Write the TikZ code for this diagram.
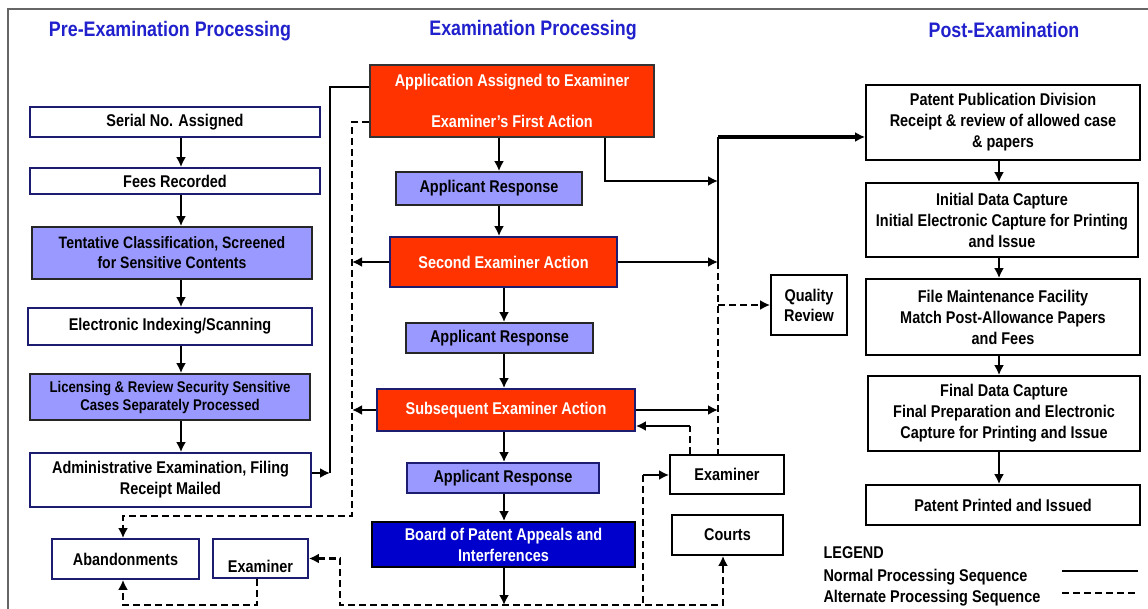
\documentclass[tikz,border=0pt]{standalone}
\usepackage{fontspec}
\setmainfont{Liberation Sans}[FakeStretch=0.85]
\usetikzlibrary{arrows.meta}
\definecolor{examred}{RGB}{255,51,0}
\definecolor{respblue}{RGB}{153,153,255}
\definecolor{boardblue}{RGB}{0,0,204}
\definecolor{titleblue}{RGB}{32,32,204}
\definecolor{navyline}{RGB}{28,28,112}

\begin{document}
\begin{tikzpicture}[x=1pt,y=-1pt,
  >={Latex[length=10pt,width=10pt]},
  box/.style={draw=black, line width=1.8pt, inner sep=0pt, align=center,
    font=\fontsize{17}{21}\selectfont\bfseries},
  plain/.style={box, draw=navyline, fill=white},
  resp/.style={box, draw=black!85, fill=respblue},
  action/.style={box, draw=navyline, fill=examred, text=white},
  head/.style={font=\fontsize{21}{24}\selectfont\bfseries, text=titleblue},
  flow/.style={line width=2.3pt},
  alt/.style={line width=2.3pt, dash pattern=on 7pt off 4pt}]
				\useasboundingbox (0,0) rectangle (1148,609);
				\draw[black!60, line width=1.2pt] (8,609) -- (8,9) -- (1148,9);

				% headings
				\node[head] (prehead) at (170,31) {Pre-Examination Processing};
				\node[head] (exhead) at (533,30) {Examination Processing};
				\node[head] (posthead) at (1004,30) {Post-Examination};

				% pre-examination
				\node[plain, minimum width=290, minimum height=30] (serial) at (175,122) {Serial No. Assigned};
				\node[plain, minimum width=290, minimum height=26] (fees) at (175,181) {Fees Recorded};
				\node[resp, minimum width=280, minimum height=52, font=\fontsize{16.5}{20}\selectfont\bfseries] (tent) at (172,253) {Tentative Classification, Screened\\for Sensitive Contents};
				\node[plain, minimum width=284, minimum height=37] (index) at (170,326.5) {Electronic Indexing/Scanning};
				\node[resp, minimum width=280, minimum height=46, font=\fontsize{15.5}{18}\selectfont\bfseries] (lic) at (170,397) {Licensing \& Review Security Sensitive\\Cases Separately Processed};
				\node[plain, minimum width=281, minimum height=54] (admin) at (170.5,480) {Administrative Examination, Filing\\Receipt Mailed};
				\node[plain, minimum width=147, minimum height=40] (aband) at (125.5,559) {Abandonments};
				\node[plain, minimum width=95, minimum height=39, text height=28pt, text depth=0pt] (exleft) at (260.5,558.5) {Examiner};

				% examination
				\node[action, draw=black!80, minimum width=284, minimum height=72] (assign) at (512,101) {Application Assigned to Examiner\\[20pt]Examiner's First Action};
				\node[resp, minimum width=186, minimum height=33] (resp1) at (489,188.5) {Applicant Response};
				\node[action, minimum width=227, minimum height=50] (second) at (503.5,262) {Second Examiner Action};
				\node[resp, minimum width=187, minimum height=30] (resp2) at (499.5,338) {Applicant Response};
				\node[action, minimum width=258, minimum height=42] (subseq) at (506,410) {Subsequent Examiner Action};
				\node[resp, draw=navyline, minimum width=192, minimum height=30] (resp3) at (503,478) {Applicant Response};
				\node[box, fill=boardblue, text=white, minimum width=263, minimum height=45] (board) at (503.5,544.5) {Board of Patent Appeals and\\Interferences};
				\node[box, fill=white, minimum width=114, minimum height=39] (exright) at (727,474.5) {Examiner};
				\node[box, fill=white, minimum width=111, minimum height=40] (courts) at (727.5,535) {Courts};
				\node[box, fill=white, minimum width=76, minimum height=60, font=\fontsize{17}{20}\selectfont\bfseries] (quality) at (809,305) {Quality\\Review};

				% post-examination
				\node[box, fill=white, minimum width=274, minimum height=75] (pubdiv) at (1003,122.5) {Patent Publication Division\\Receipt \& review of allowed case\\\& papers};
				\node[box, fill=white, minimum width=272, minimum height=74] (initcap) at (1002,220) {Initial Data Capture\\Initial Electronic Capture for Printing\\and Issue};
				\node[box, fill=white, minimum width=274, minimum height=76] (filemaint) at (1003,317) {File Maintenance Facility\\Match Post-Allowance Papers\\and Fees};
				\node[box, fill=white, minimum width=272, minimum height=75] (finalcap) at (1004,413.5) {Final Data Capture\\Final Preparation and Electronic\\Capture for Printing and Issue};
				\node[box, fill=white, minimum width=274, minimum height=40] (printed) at (1003,505) {Patent Printed and Issued};

				% legend
				\node[anchor=west, font=\fontsize{17}{20}\selectfont\bfseries] (legend) at (820,553) {LEGEND};
				\node[anchor=west, font=\fontsize{17}{20}\selectfont\bfseries] (normal) at (820,577) {Normal Processing Sequence};
				\node[anchor=west, font=\fontsize{17}{20}\selectfont\bfseries] (alternate) at (820,598) {Alternate Processing Sequence};
				\coordinate (nl1) at (1062,571);
				\coordinate (nl2) at (1138,571);
				\coordinate (al1) at (1062,593);
				\coordinate (al2) at (1138,593);
				\draw[line width=1.2pt] (nl1) -- (nl2);
				\draw[line width=2.8pt, dash pattern=on 7pt off 4pt] (al1) -- (al2);

				% junction points
				\coordinate (leftx) at (181,0);
				\coordinate (midx) at (499,0);
				\coordinate (lowx) at (504,0);
				\coordinate (rightx) at (999,0);
				\coordinate (feedbot) at (330,473);
				\coordinate (feedtop) at (330,87);
				\coordinate (backtop) at (352,122);
				\coordinate (backbot) at (352,516);
				\coordinate (abandx) at (123,516);
				\coordinate (outx) at (605,0);
				\coordinate (alltop) at (718,137);
				\coordinate (allmid) at (718,181);
				\coordinate (retex) at (690,426);
				\coordinate (toex) at (643,475);
				\coordinate (botleft) at (340,605);
				\coordinate (botright) at (723,605);
				\coordinate (exdrop) at (257,605);

				% normal sequence
				\draw[flow,->] (serial.south -| leftx) -- (fees.north -| leftx);
				\draw[flow,->] (fees.south -| leftx) -- (tent.north -| leftx);
				\draw[flow,->] (tent.south -| leftx) -- (index.north -| leftx);
				\draw[flow,->] (index.south -| leftx) -- (lic.north -| leftx);
				\draw[flow,->] (lic.south -| leftx) -- (admin.north -| leftx);
				\draw[flow,->] (admin.east |- feedbot) -- (feedbot);
				\draw[flow] (feedbot) -- (feedtop) -- (feedtop -| assign.west);
				\draw[flow,->] (assign.south -| midx) -- (resp1.north -| midx);
				\draw[flow,->] (resp1.south -| midx) -- (second.north -| midx);
				\draw[flow,->] (second.south -| lowx) -- (resp2.north -| lowx);
				\draw[flow,->] (resp2.south -| lowx) -- (subseq.north -| lowx);
				\draw[flow,->] (subseq.south -| lowx) -- (resp3.north -| lowx);
				\draw[flow,->] (resp3.south -| lowx) -- (board.north -| lowx);
				\draw[flow,->] (board.south -| lowx) -- (botleft -| lowx);
				\draw[flow,->] (assign.south -| outx) -- (outx |- allmid) -- (allmid);
				\draw[flow,->] (second.east) -- (second.east -| alltop);
				\draw[flow,->] (subseq.east) -- (subseq.east -| alltop);
				\draw[line width=2.8pt] (second.east -| alltop) -- (alltop);
				\draw[line width=3.2pt,->] (alltop) -- (alltop -| pubdiv.west);
				\draw[flow,->] (retex) -- (retex -| subseq.east);
				\draw[flow,->] (toex) -- (toex -| exright.west);
				\draw[flow,->] (pubdiv.south -| rightx) -- (initcap.north -| rightx);
				\draw[flow,->] (initcap.south -| rightx) -- (filemaint.north -| rightx);
				\draw[flow,->] (filemaint.south -| rightx) -- (finalcap.north -| rightx);
				\draw[flow,->] (finalcap.south -| rightx) -- (printed.north -| rightx);

				% alternate sequence
				\draw[alt,->] (assign.west |- backtop) -- (backtop) -- (backbot) -- (abandx) -- (abandx |- aband.north);
				\draw[flow,->] (second.west) -- (second.west -| backtop);
				\draw[flow,->] (subseq.west) -- (subseq.west -| backtop);
				\draw[alt] (second.east -| alltop) -- (alltop |- exright.north);
				\draw[alt,->] (alltop |- quality.west) -- (quality.west);
				\draw[alt] (exright.north -| retex) -- (retex);
				\draw[alt] (toex) -- (toex |- botleft);
				\draw[alt,<->] (exleft.east) -- (botleft |- exleft.east) -- (botleft) -- (botright) -- (botright |- courts.south);
				\draw[alt,->] (exleft.south -| exdrop) -- (exdrop) -- (abandx |- exdrop) -- (abandx |- aband.south);
			\end{tikzpicture}
\end{document}
